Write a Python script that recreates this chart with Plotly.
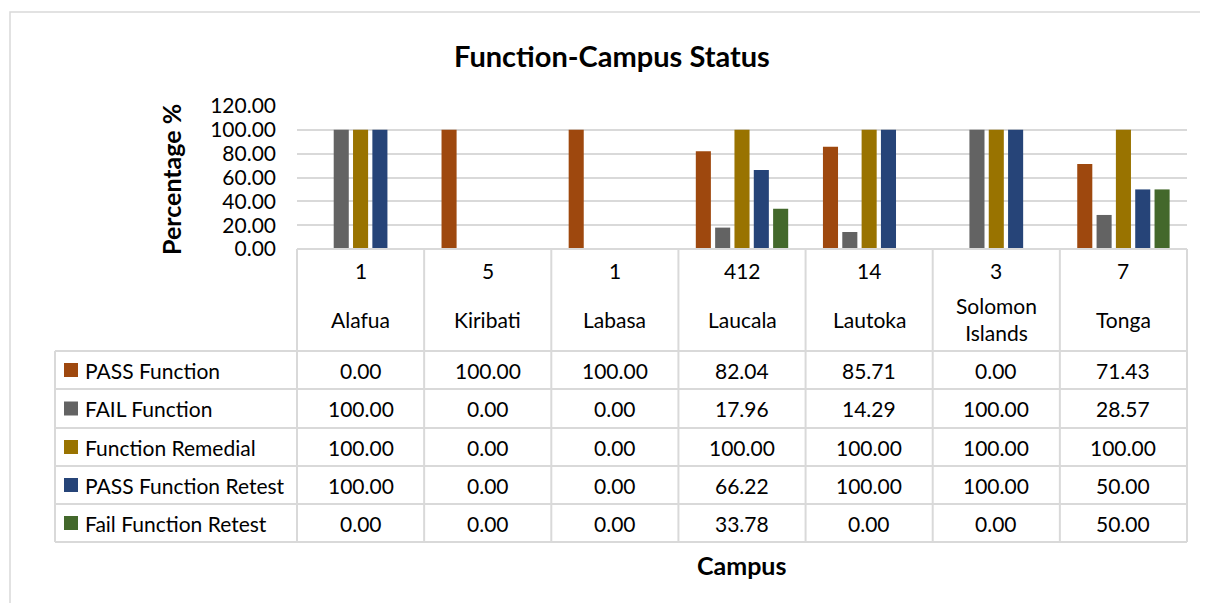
import plotly.graph_objects as go

campuses = ["Alafua", "Kiribati", "Labasa", "Laucala", "Lautoka", "Solomon<br>Islands", "Tonga"]
counts = ["1", "5", "1", "412", "14", "3", "7"]
series_names = ["PASS Function", "FAIL Function", "Function Remedial", "PASS Function Retest", "Fail Function Retest"]
pass_function = [0.00, 100.00, 100.00, 82.04, 85.71, 0.00, 71.43]
fail_function = [100.00, 0.00, 0.00, 17.96, 14.29, 100.00, 28.57]
function_remedial = [100.00, 0.00, 0.00, 100.00, 100.00, 100.00, 100.00]
pass_retest = [100.00, 0.00, 0.00, 66.22, 100.00, 100.00, 50.00]
fail_retest = [0.00, 0.00, 0.00, 33.78, 0.00, 0.00, 50.00]
series_values = [pass_function, fail_function, function_remedial, pass_retest, fail_retest]
colors = ["#9E480E", "#636363", "#997300", "#264478", "#43682B"]

FONT = "Lato"
OFF = 8  # page body margin
W, H = 1208 - OFF, 603 - OFF
L, R, T, B = 297, 1187, 106, 249  # plot area pixels (reference coords)

def px(xp):
    return (xp - L) / (R - L)

def py(yp):
    return (B - yp) / (B - T)

n = len(campuses)
xs = list(range(n))
fig = go.Figure()
for name, vals, col in zip(series_names, series_values, colors):
    fig.add_trace(go.Bar(x=xs, y=vals, name=name, marker=dict(color=col, line=dict(width=0)),
                         showlegend=False))

grid = "#D9D9D9"
shapes = []
annotations = []

# outer chart border
shapes.append(dict(type="rect", xref="paper", yref="paper", x0=px(10), x1=px(1230), y0=py(12), y1=py(620),
                   line=dict(color=grid, width=1.5), layer="below"))

# table geometry (pixels)
row_edges = [351, 389, 428, 466, 504, 542]
left_legend = 55
col_edges = [L + k * (R - L) / n for k in range(n + 1)]

shapes.append(dict(type="line", xref="paper", yref="paper", x0=px(L), x1=px(R), y0=py(B), y1=py(B),
                   line=dict(color=grid, width=2)))
for ye in row_edges:
    shapes.append(dict(type="line", xref="paper", yref="paper", x0=px(left_legend), x1=px(R), y0=py(ye), y1=py(ye),
                       line=dict(color=grid, width=2)))
for xe in col_edges:
    shapes.append(dict(type="line", xref="paper", yref="paper", x0=px(xe), x1=px(xe), y0=py(B), y1=py(row_edges[-1]),
                       line=dict(color=grid, width=2)))
shapes.append(dict(type="line", xref="paper", yref="paper", x0=px(left_legend), x1=px(left_legend),
                   y0=py(row_edges[0]), y1=py(row_edges[-1]), line=dict(color=grid, width=2)))

txt = dict(family=FONT, size=21, color="#000000")
for i in range(n):
    annotations.append(dict(x=xs[i], y=py(270), xref="x", yref="paper", text=counts[i], showarrow=False,
                            font=txt, xanchor="center", yanchor="middle"))
    annotations.append(dict(x=xs[i], y=py(319), xref="x", yref="paper", text=campuses[i], showarrow=False,
                            font=txt, xanchor="center", yanchor="middle"))
for r, (name, vals, col) in enumerate(zip(series_names, series_values, colors)):
    yc = (row_edges[r] + row_edges[r + 1]) / 2
    shapes.append(dict(type="rect", xref="paper", yref="paper", x0=px(64), x1=px(78), y0=py(yc - 7), y1=py(yc + 7),
                       fillcolor=col, line=dict(width=0)))
    annotations.append(dict(x=px(83), y=py(yc), xref="paper", yref="paper", text=name, showarrow=False,
                            font=txt, xanchor="left", yanchor="middle"))
    for i in range(n):
        annotations.append(dict(x=xs[i], y=py(yc), xref="x", yref="paper", text=f"{vals[i]:.2f}", showarrow=False,
                                font=txt, xanchor="center", yanchor="middle"))

annotations.append(dict(x=px(612), y=py(55), xref="paper", yref="paper", text="<b>Function-Campus Status</b>",
                        showarrow=False, font=dict(family=FONT, size=29, color="#000000"),
                        xanchor="center", yanchor="middle"))
annotations.append(dict(x=px(741), y=py(565), xref="paper", yref="paper", text="<b>Campus</b>",
                        showarrow=False, font=dict(family=FONT, size=25, color="#000000"),
                        xanchor="center", yanchor="middle"))
annotations.append(dict(x=px(171), y=py(180), xref="paper", yref="paper", text="<b>Percentage %</b>",
                        showarrow=False, font=dict(family=FONT, size=25, color="#000000"), textangle=-90,
                        xanchor="center", yanchor="middle"))

fig.update_layout(
    width=W, height=H,
    margin=dict(l=L - OFF, r=W - (R - OFF), t=T - OFF, b=H - (B - OFF), pad=0),
    paper_bgcolor="white", plot_bgcolor="white",
    barmode="group", bargap=0.24, bargroupgap=0.22,
    xaxis=dict(range=[-0.5, n - 0.5], showticklabels=False, showgrid=False, zeroline=False, ticks=""),
    yaxis=dict(range=[0, 120], dtick=20, tickformat=".2f", showgrid=True, gridcolor=grid, gridwidth=2,
               zeroline=False, ticks="", tickfont=dict(family=FONT, size=21, color="#000000"), ticklabelstandoff=20),
    shapes=shapes, annotations=annotations,
)
fig.write_html("out.html")
